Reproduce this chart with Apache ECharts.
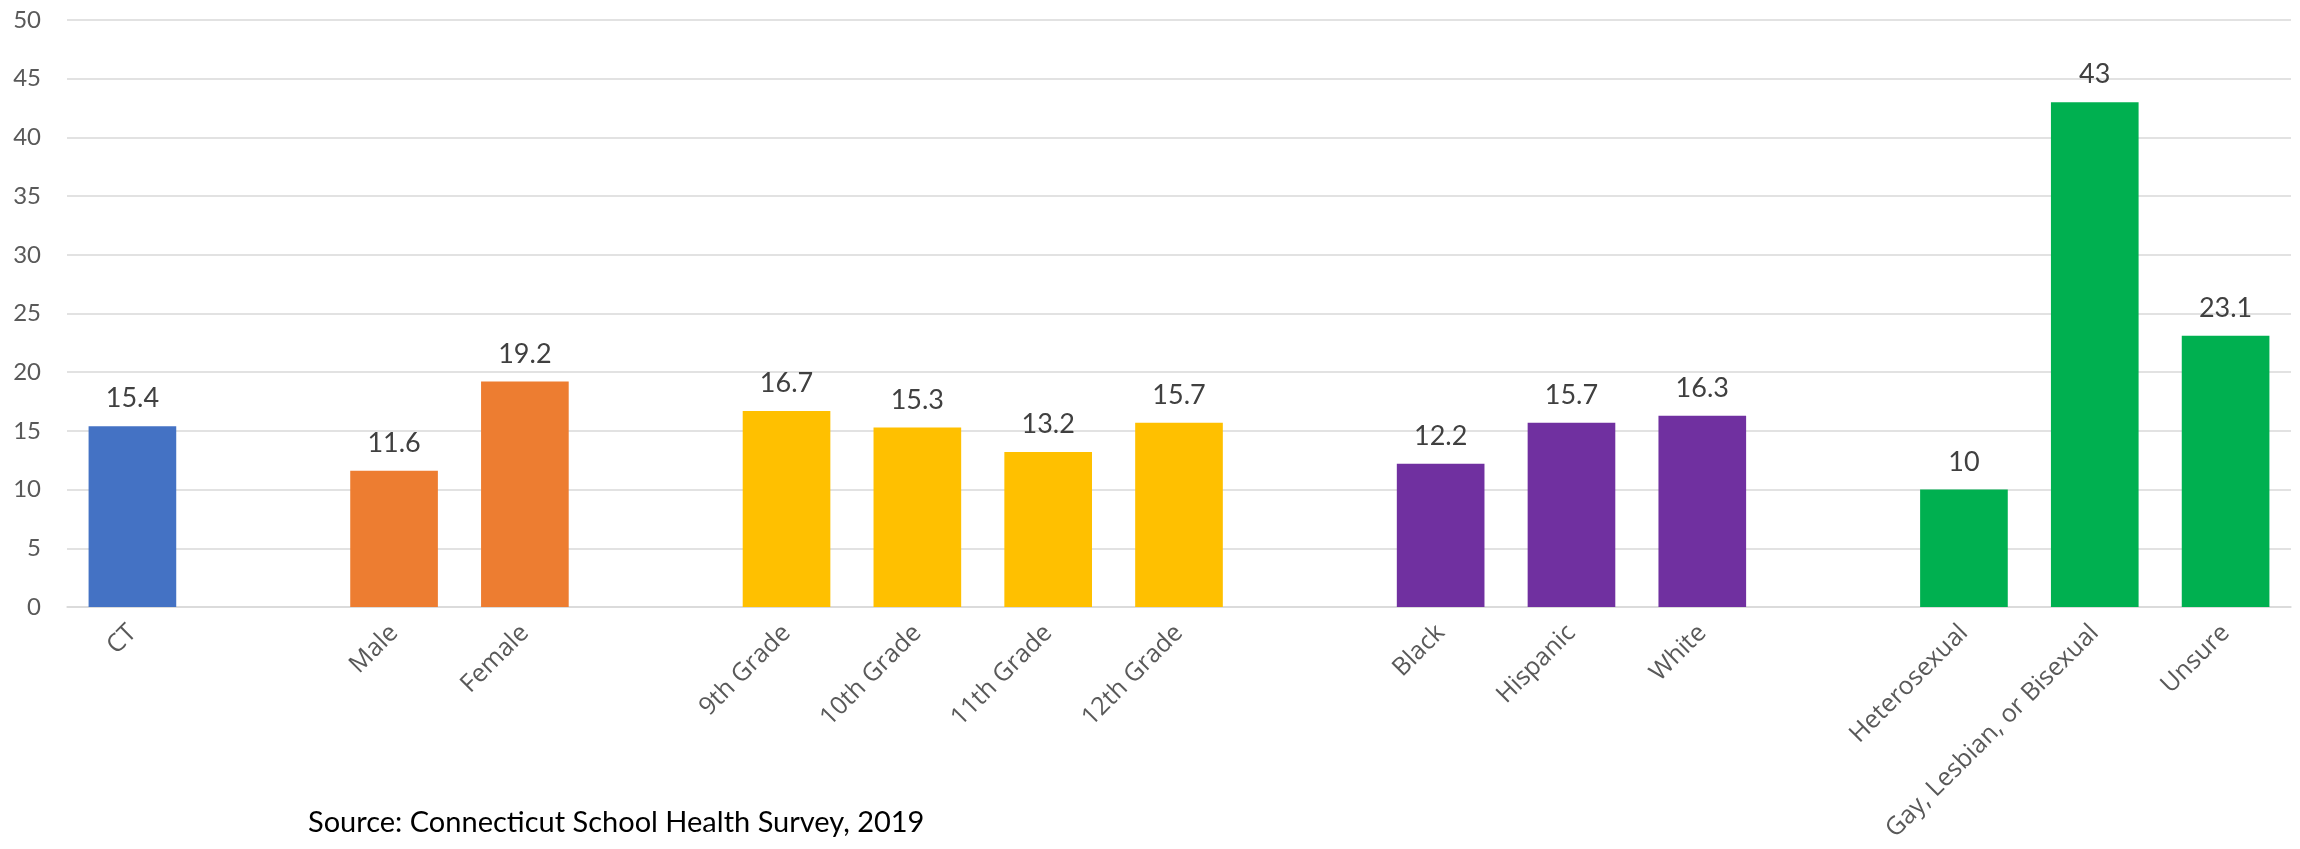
<!DOCTYPE html>
<html>
<head>
<meta charset="utf-8">
<script src="https://cdn.jsdelivr.net/npm/echarts@6/dist/echarts.min.js"></script>
<style>
  html, body { margin: 0; padding: 0; background: #ffffff; }
  #chart { width: 2300px; height: 849px; }
</style>
</head>
<body>
<div id="chart"></div>
<script>
// Groups of respondents, separated by an empty slot on the axis
const groupCategories = [
  ['CT'],
  ['Male', 'Female'],
  ['9th Grade', '10th Grade', '11th Grade', '12th Grade'],
  ['Black', 'Hispanic', 'White'],
  ['Heterosexual', 'Gay, Lesbian, or Bisexual', 'Unsure']
];
const groupValues = [
  [15.4],
  [11.6, 19.2],
  [16.7, 15.3, 13.2, 15.7],
  [12.2, 15.7, 16.3],
  [10, 43, 23.1]
];
const groupColors = ['#4472C4', '#ED7D31', '#FFC000', '#7030A0', '#00B050'];
const yTicks = { min: 0, max: 50, interval: 5 };
const sourceNote = 'Source: Connecticut School Health Survey, 2019';

// Flatten groups into one category axis with a blank slot between groups
const categories = [];
const barData = [];
groupCategories.forEach((names, g) => {
  if (g > 0) {
    categories.push('');
    barData.push('-');
  }
  names.forEach((name, i) => {
    categories.push(name);
    barData.push({ value: groupValues[g][i], itemStyle: { color: groupColors[g] } });
  });
});

const chart = echarts.init(document.getElementById('chart'), null, { renderer: 'canvas' });
chart.setOption({
  backgroundColor: '#ffffff',
  animation: false,
  grid: { left: 67, right: 9, top: 20, bottom: 242, containLabel: false },
  xAxis: {
    type: 'category',
    data: categories,
    axisTick: { show: false },
    axisLine: { show: true, lineStyle: { color: '#D9D9D9', width: 1.5 } },
    axisLabel: {
      interval: 0,
      rotate: 45,
      margin: 22,
      color: '#595959',
      fontFamily: '"Open Sans", sans-serif',
      fontSize: 25
    }
  },
  yAxis: {
    type: 'value',
    min: yTicks.min,
    max: yTicks.max,
    interval: yTicks.interval,
    axisLine: { show: false },
    axisTick: { show: false },
    splitLine: { lineStyle: { color: '#D9D9D9', width: 1.5 } },
    axisLabel: {
      margin: 26,
      color: '#595959',
      fontFamily: 'Lato, sans-serif',
      fontSize: 24
    }
  },
  series: [{
    type: 'bar',
    data: barData,
    barCategoryGap: '33%',
    label: {
      show: true,
      position: 'top',
      distance: 14,
      color: '#404040',
      fontFamily: 'Lato, sans-serif',
      fontSize: 27,
      formatter: p => String(p.value)
    }
  }],
  graphic: [{
    type: 'text',
    left: 308,
    top: 808,
    style: {
      text: sourceNote,
      fill: '#000000',
      font: '29px Lato, sans-serif'
    }
  }]
});
</script>
</body>
</html>
